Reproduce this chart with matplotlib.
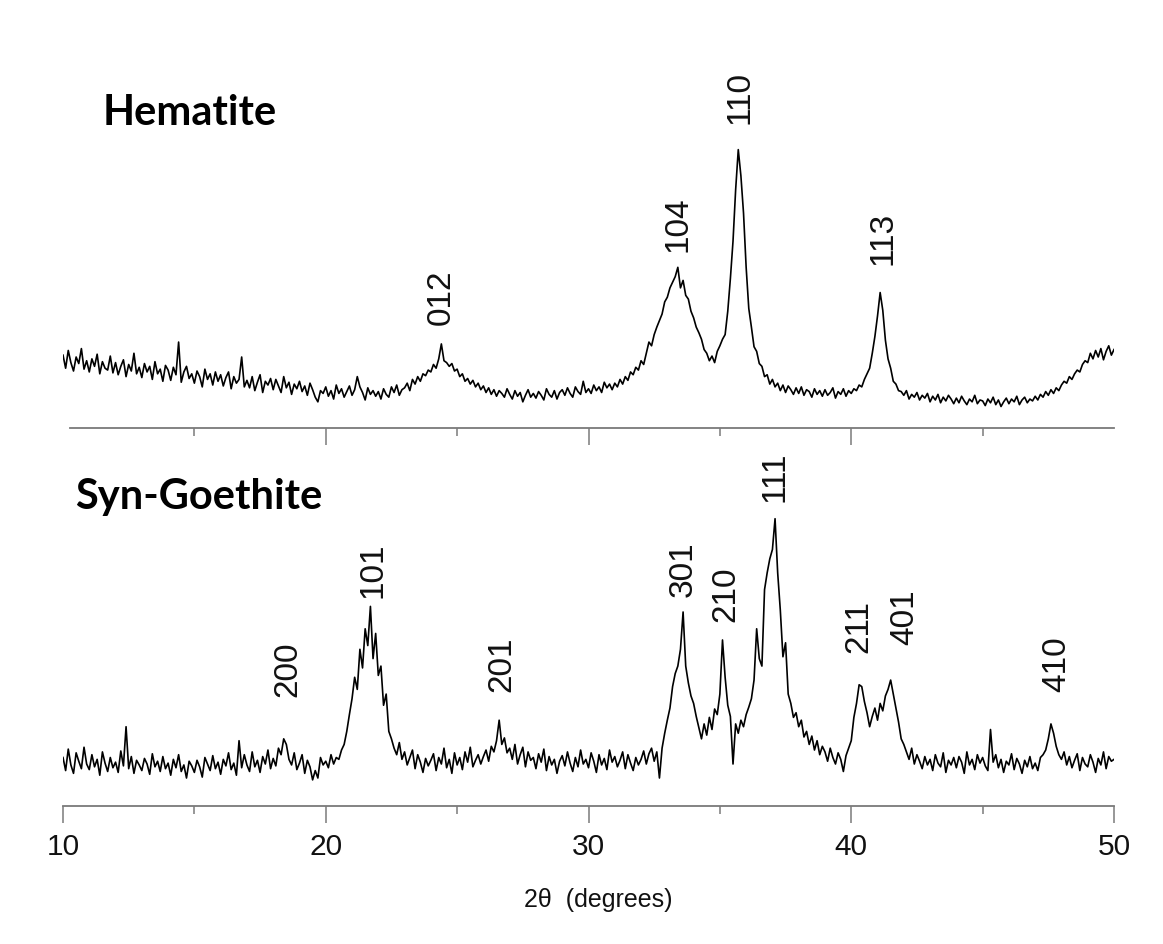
import numpy as np
import matplotlib
matplotlib.use("Agg")
import matplotlib.pyplot as plt
from matplotlib.ticker import FixedLocator, NullFormatter

# 2-theta grid, 10..50 deg in 0.1 deg steps
two_theta = np.round(np.arange(100, 501) / 10, 1)

# Hematite intensity (arb. units), one row per degree
hematite = [
    78, 64, 83, 70, 61, 76, 69, 85, 63, 72,
    60, 74, 66, 79, 58, 71, 64, 62, 77, 59,
    70, 57, 66, 73, 55, 68, 61, 80, 58, 65,
    54, 69, 60, 66, 52, 71, 58, 63, 50, 67,
    62, 51, 65, 57, 92, 49, 60, 66, 53, 58,
    48, 61, 55, 44, 63, 52, 58, 46, 60, 50,
    57, 45, 54, 60, 42, 55, 48, 52, 76, 44,
    51, 43, 55, 40, 49, 57, 38, 50, 46, 53,
    41, 52, 45, 38, 55, 43, 49, 36, 47, 42,
    50, 39, 45, 35, 48, 41, 33, 28, 40, 37,
    44, 34, 40, 31, 46, 37, 42, 33, 39, 45,
    35, 41, 55, 44, 38, 30, 43, 36, 40, 34,
    39, 31, 42, 36, 33, 44, 38, 46, 35, 41,
    43, 48, 40, 52, 47, 55, 50, 58, 56, 62,
    60, 68, 64, 74, 90, 72, 70, 66, 69, 61,
    63, 55, 58, 50, 53, 47, 51, 44, 48, 41,
    45, 38, 43, 36, 41, 34, 40, 37, 33, 42,
    36, 31, 40, 34, 38, 28, 35, 41, 33, 37,
    32, 39, 35, 30, 42, 36, 33, 40, 31, 38,
    41, 35, 43, 37, 33, 44, 39, 36, 50, 38,
    42, 37, 46, 40, 44, 38, 49, 43, 47, 41,
    48, 44, 52, 47, 55, 51, 60, 57, 65, 62,
    72, 68, 80, 92, 88, 100, 108, 115, 122, 135,
    140, 150, 156, 162, 172, 150, 158, 142, 138, 125,
    118, 108, 102, 95, 84, 80, 72, 77, 70, 82,
    88, 95, 100, 125, 160, 200, 255, 298, 270, 230,
    172, 128, 108, 87, 82, 69, 66, 55, 57, 47,
    52, 44, 48, 40, 46, 38, 45, 41, 36, 43,
    37, 44, 35, 41, 39, 33, 42, 36, 40, 34,
    41, 35, 38, 43, 32, 39, 36, 42, 34, 40,
    37, 42, 40, 46, 44, 52, 58, 64, 80, 98,
    120, 145, 126, 94, 74, 64, 50, 47, 40, 39,
    35, 40, 31, 36, 33, 38, 30, 35, 32, 37,
    28, 34, 30, 36, 27, 33, 29, 35, 31, 26,
    32, 27, 34, 29, 25, 31, 28, 35, 26, 30,
    29, 24, 31, 27, 33, 25, 30, 23, 28, 32,
    26, 31, 28, 34, 25, 30, 33, 27, 31, 29,
    34, 30, 36, 33, 39, 35, 41, 37, 43, 40,
    46, 50, 48, 55, 52, 58, 62, 60, 68, 72,
    70, 80, 74, 83, 76, 85, 73, 82, 88, 78,
    84,
]

# Synthetic goethite intensity (arb. units)
goethite = [
    52, 38, 61, 44, 35, 57, 48, 40, 63, 45,
    39, 55, 42, 50, 33, 58, 46, 37, 52, 41,
    47, 36, 59, 43, 85, 40, 53, 35, 49, 44,
    38, 51, 45, 34, 56, 42, 48, 37, 53, 40,
    46, 33, 50, 41, 55, 37, 44, 30, 48, 43,
    36, 49, 42, 31, 52, 45, 38, 54, 40, 47,
    34, 50, 43, 57, 39, 46, 33, 70, 41, 55,
    44, 37, 58, 42, 49, 36, 53, 45, 60, 40,
    51, 43, 62, 55, 72, 66, 50, 44, 57, 39,
    46, 55, 35, 49, 42, 28, 38, 30, 52, 44,
    48, 41, 55, 45, 52, 50, 60, 66, 80, 98,
    115, 138, 125, 168, 148, 190, 172, 214, 158, 185,
    140, 150, 108, 120, 80, 72, 62, 55, 68, 50,
    58, 44, 52, 60, 40, 55, 47, 36, 51, 43,
    49, 56, 38, 52, 45, 62, 41, 50, 35, 57,
    44, 52, 39, 58, 47, 63, 42, 49, 55, 45,
    53, 60, 48, 64, 58, 70, 92, 66, 73, 57,
    62, 50, 66, 45, 55, 63, 42, 58, 49, 52,
    40, 56, 47, 61, 38, 53, 44, 50, 35, 48,
    54, 43, 58, 46, 37, 52, 42, 60, 45, 50,
    41, 57, 48, 36, 55, 44, 51, 39, 60, 47,
    53, 42, 49, 58, 40, 55, 46, 38, 52, 44,
    50, 59, 45, 56, 62, 48, 58, 30, 62, 78,
    92, 105, 128, 142, 150, 168, 208, 150, 132, 118,
    110, 96, 84, 72, 88, 76, 95, 82, 104, 98,
    120, 178, 138, 108, 96, 45, 88, 78, 92, 85,
    98, 106, 115, 135, 190, 158, 150, 232, 250, 265,
    275, 308, 250, 210, 160, 175, 120, 110, 95, 100,
    85, 92, 74, 80, 66, 75, 60, 70, 55, 64,
    58, 48, 62, 52, 45, 57, 50, 37, 54, 62,
    70, 95, 110, 130, 128, 112, 100, 85, 96, 105,
    92, 110, 102, 118, 125, 135, 120, 105, 90, 72,
    66, 58, 50, 62, 45, 55, 48, 40, 53, 44,
    50, 38, 55, 46, 42, 57, 36, 49, 44, 52,
    41, 53, 47, 35, 58, 44, 50, 39, 55, 46,
    52, 43, 38, 82, 47, 55, 41, 50, 36, 48,
    44, 56, 39, 51, 45, 35, 49, 42, 53, 40,
    46, 38, 52, 55, 60, 72, 88, 78, 64, 55,
    50, 58, 44, 53, 41, 49, 56, 38, 52, 45,
    42, 55, 47, 36, 51, 44, 58, 40, 53, 48,
    50,
]

# reflections (hkl) and their 2-theta positions
hem_hkl = ["012", "104", "110", "113"]
hem_pos = [24.4, 33.4, 35.77, 41.2]
goe_hkl = ["200", "101", "201", "301", "210", "111", "211", "401", "410"]
goe_pos = [18.55, 21.8, 26.7, 33.62, 35.23, 37.08, 40.28, 42.05, 47.83]

# label heights (where the rotated text starts)
hem_lab_y = [111, 189, 326, 176]
goe_lab_y = [118, 224, 123, 225, 198, 327, 165, 174, 123]

W, H = 1163, 945
fig = plt.figure(figsize=(W / 100, H / 100), dpi=100)
fig.patch.set_facecolor("white")

left = 63 / W
width = (1114 - 63) / W
ax_top = fig.add_axes([left, (H - 429) / H, width, 369 / H])
ax_bot = fig.add_axes([left, (H - 807) / H, width, 347 / H])

axis_grey = "#7a7a7a"
lab_font = dict(family="Liberation Sans", fontsize=24, rotation=90,
                ha="center", va="bottom", color="#111111")

for ax, y, top in [(ax_top, hematite, 395), (ax_bot, goethite, 372)]:
    ax.plot(two_theta, y, color="black", lw=1.2)
    ax.set_xlim(10, 50)
    ax.set_ylim(0, top)
    for s in ["left", "right", "top"]:
        ax.spines[s].set_visible(False)
    ax.spines["bottom"].set_color(axis_grey)
    ax.spines["bottom"].set_linewidth(1.3)
    ax.set_yticks([])
    ax.patch.set_alpha(0)
    ax.tick_params(axis="x", which="major", length=12, width=1.1,
                   color=axis_grey, direction="out")
    ax.tick_params(axis="x", which="minor", length=6, width=1.1,
                   color=axis_grey, direction="out")

# top panel: ticks only, no numbers; its baseline starts a bit right of 10
ax_top.spines["bottom"].set_bounds(10.25, 50)
ax_top.xaxis.set_major_locator(FixedLocator([20, 30, 40]))
ax_top.xaxis.set_minor_locator(FixedLocator([15, 25, 35, 45]))
ax_top.xaxis.set_major_formatter(NullFormatter())

ax_bot.xaxis.set_major_locator(FixedLocator([10, 20, 30, 40, 50]))
ax_bot.xaxis.set_minor_locator(FixedLocator([15, 25, 35, 45]))
ax_bot.tick_params(axis="x", which="major", labelsize=21.5, pad=7,
                   labelcolor="#111111")
for t in ax_bot.get_xticklabels():
    t.set_family("Liberation Sans")

for hkl, x, yl in zip(hem_hkl, hem_pos, hem_lab_y):
    ax_top.text(x, yl, hkl, clip_on=False, **lab_font)
for hkl, x, yl in zip(goe_hkl, goe_pos, goe_lab_y):
    ax_bot.text(x, yl, hkl, clip_on=False, **lab_font)

fig.text(103 / W, 1 - 113 / H, "Hematite", family="Lato", weight="bold",
         fontsize=30, ha="left", va="center", color="black")
fig.text(75 / W, 1 - 497 / H, "Syn-Goethite", family="Lato", weight="bold",
         fontsize=30, ha="left", va="center", color="black")

fig.text(598 / W, 1 - 900 / H, "2\u03b8  (degrees)", family="Liberation Sans",
         fontsize=18, ha="center", va="center", color="#111111")

fig.savefig("out.png", dpi=100, facecolor="white")
